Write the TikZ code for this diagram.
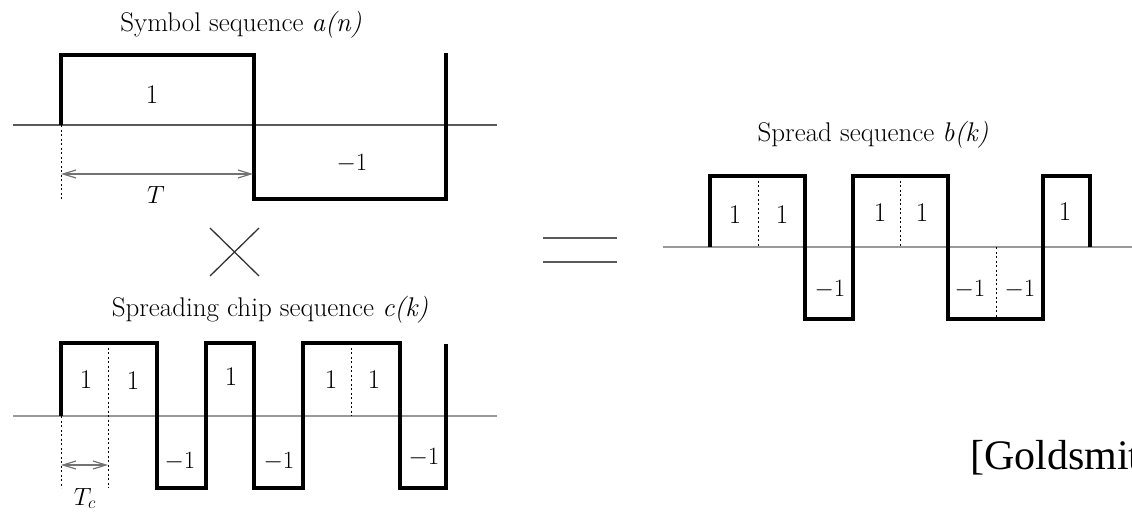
\documentclass[tikz,border=0pt]{standalone}
\usepackage{fontspec}
\newfontfamily\citefont{Liberation Serif}
\usetikzlibrary{arrows.meta}
\begin{document}
\begin{tikzpicture}[x=1pt,y=-1pt,
 sig/.style={line width=3.6pt, line join=miter, line cap=butt},
 axisdark/.style={line width=1.3pt, draw=black!65},
 axislight/.style={line width=1.3pt, draw=black!40},
 dots/.style={line width=1pt, dash pattern=on 2pt off 2.5pt},
 dim/.style={line width=1.2pt, draw=black!55, {Straight Barb[length=13pt,width=8pt]}-{Straight Barb[length=13pt,width=8pt]}},
 lbl/.style={font=\fontsize{27}{32}\selectfont, inner sep=0pt},
 ttl/.style={font=\fontsize{27}{32}\selectfont, inner sep=0pt},
]
\useasboundingbox (0,0) rectangle (1132,512);
\clip (0,0) rectangle (1132,512);

% ---------- top: symbol sequence ----------
\node[ttl] (ta) at (241,25) {Symbol sequence \textit{a(n)}};
\draw[axisdark] (13,125) -- (497,125);
\draw[dots] (61,125) -- (61,199);
\draw[sig] (61,125) -- (61,55) -- (254,55) -- (254,199) -- (446,199) -- (446,53);
\node[lbl] (a1) at (152,95) {1};
\node[lbl] (a2) at (352,164) {$-1$};
\coordinate (Ta) at (61,174);
\coordinate (Tb) at (253,174);
\draw[dim] (Ta) -- (Tb);
\node[lbl, anchor=base] (T) at (156,203) {$T$};

% ---------- multiply ----------
\draw[line width=1.3pt, black!80] (210,228) -- (259,276) (210,276) -- (259,228);

% ---------- bottom: chip sequence ----------
\node[ttl] (tc) at (270,310) {Spreading chip sequence \textit{c(k)}};
\draw[axislight] (13,416) -- (497,416);
\draw[dots] (108,343) -- (108,488);
\draw[dots] (61,416) -- (61,488);
\draw[dots] (351,343) -- (351,416);
\draw[sig] (61,416) -- (61,343) -- (157,343) -- (157,488) -- (206,488) -- (206,343) -- (254,343) -- (254,488) -- (303,488) -- (303,343) -- (400,343) -- (400,488) -- (446,488) -- (446,344);
\node[lbl] (c1) at (86,380) {1};
\node[lbl] (c2) at (133,381) {1};
\node[lbl] (c3) at (180,462) {$-1$};
\node[lbl] (c4) at (231,377) {1};
\node[lbl] (c5) at (279,462) {$-1$};
\node[lbl] (c6) at (331,380) {1};
\node[lbl] (c7) at (374,380) {1};
\node[lbl] (c8) at (424,458) {$-1$};
\coordinate (Tca) at (61,465);
\coordinate (Tcb) at (108,465);
\draw[dim] (Tca) -- (Tcb);
\node[lbl, anchor=base] (Tc) at (85,505) {$T_c$};

% ---------- equals ----------
\draw[line width=2pt, black!65] (543,238) -- (617,238) (543,262) -- (617,262);

% ---------- right: spread sequence ----------
\node[ttl] (tb) at (873,135) {Spread sequence \textit{b(k)}};
\draw[axislight] (663,247) -- (1132,247);
\draw[dots] (758,176) -- (758,247);
\draw[dots] (900,176) -- (900,247);
\draw[dots] (996,247) -- (996,319);
\draw[sig] (710,247) -- (710,176) -- (805,176) -- (805,319) -- (853,319) -- (853,176) -- (948,176) -- (948,319) -- (1043,319) -- (1043,176) -- (1090,176) -- (1090,247);
\node[lbl] (b1) at (735,215) {1};
\node[lbl] (b2) at (782,215) {1};
\node[lbl] (b3) at (830,290) {$-1$};
\node[lbl] (b4) at (880,213) {1};
\node[lbl] (b5) at (922,213) {1};
\node[lbl] (b6) at (970,290) {$-1$};
\node[lbl] (b7) at (1020,290) {$-1$};
\node[lbl] (b8) at (1065,212) {1};

% ---------- citation ----------
\node[anchor=base west, inner sep=0pt, font=\citefont\fontsize{42}{48}\selectfont] (cite) at (970,469) {[Goldsmith};
\end{tikzpicture}
\end{document}
